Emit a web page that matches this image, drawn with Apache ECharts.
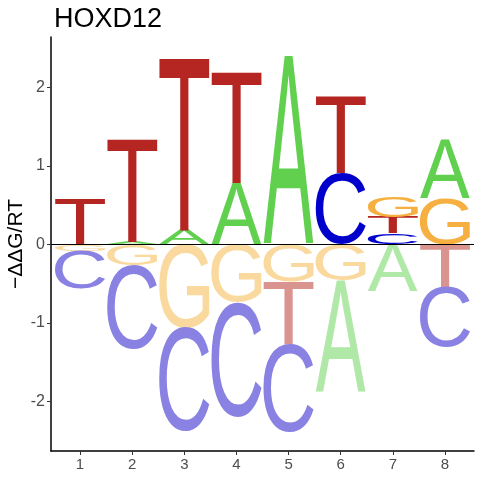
<!DOCTYPE html>
<html>
<head>
<meta charset="utf-8">
<script src="https://cdn.jsdelivr.net/npm/echarts@6/dist/echarts.min.js"></script>
<style>
  html, body { margin: 0; padding: 0; background: #fff; }
  #logo { width: 480px; height: 480px; }
</style>
</head>
<body>
<div id="logo"></div>
<script>
var positions = [1, 2, 3, 4, 5, 6, 7, 8];
var letters = ['A', 'C', 'G', 'T'];

// heights above zero, per position
var upA = [0, 0.03, 0.19, 0.78, 2.41, 0, 0, 0.75];
var upC = [0, 0, 0, 0, 0, 0.91, 0.14, 0];
var upG = [0, 0, 0, 0, 0, 0, 0.26, 0.59];
var upT = [0.58, 1.32, 2.21, 1.41, 0, 0.99, 0.21, 0];

// heights below zero (magnitude), per position
var downA = [0, 0, 0, 0, 0, 1.43, 0.60, 0];
var downC = [0.48, 1.07, 1.32, 1.46, 1.12, 0, 0, 0.77];
var downG = [0.08, 0.27, 1.07, 0.73, 0.47, 0.46, 0, 0];
var downT = [0, 0, 0, 0, 0.81, 0, 0, 0.54];

var yTicks = [-2, -1, 0, 1, 2];

var colUp = { A: '#61D04F', C: '#0000CD', G: '#F5B041', T: '#B52521' };
var colDown = { A: '#B0E8A7', C: '#8A82E3', G: '#FAD99F', T: '#DA9490' };

var FONT = '200px "Liberation Sans"';

// ink box of every glyph, measured the same way zrender draws (center / middle)
var metrics = {};
(function () {
	var ctx = document.createElement('canvas').getContext('2d');
	ctx.font = FONT;
	ctx.textAlign = 'center';
	ctx.textBaseline = 'middle';
	letters.forEach(function (ch) {
		var m = ctx.measureText(ch);
		metrics[ch] = {
			l: m.actualBoundingBoxLeft, r: m.actualBoundingBoxRight,
			a: m.actualBoundingBoxAscent, d: m.actualBoundingBoxDescent
		};
	});
})();

// stack letters: smallest next to zero
var up = { A: upA, C: upC, G: upG, T: upT };
var down = { A: downA, C: downC, G: downG, T: downT };
var stacks = [];
positions.forEach(function (p, i) {
	var pos = letters.map(function (l) { return [l, up[l][i]]; })
		.filter(function (v) { return v[1] > 0; })
		.sort(function (a, b) { return a[1] - b[1]; });
	var acc = 0;
	pos.forEach(function (v) {
		stacks.push([p, acc, acc + v[1], letters.indexOf(v[0]), 0]);
		acc += v[1];
	});
	var neg = letters.map(function (l) { return [l, down[l][i]]; })
		.filter(function (v) { return v[1] > 0; })
		.sort(function (a, b) { return a[1] - b[1]; });
	acc = 0;
	neg.forEach(function (v) {
		stacks.push([p, -acc - v[1], -acc, letters.indexOf(v[0]), 1]);
		acc += v[1];
	});
});

var halfW = 0.48;

function renderLetter(params, api) {
	var x = api.value(0), y0 = api.value(1), y1 = api.value(2);
	var ch = letters[api.value(3)];
	var neg = api.value(4) === 1;
	var pA = api.coord([x - halfW, y1]);
	var pB = api.coord([x + halfW, y0]);
	var left = pA[0], right = pB[0];
	var top = Math.min(pA[1], pB[1]), bottom = Math.max(pA[1], pB[1]);
	var m = metrics[ch];
	var sx = (right - left) / (m.l + m.r);
	var sy = (bottom - top) / (m.a + m.d);
	return {
		type: 'text',
		x: left + sx * m.l,
		y: top + sy * m.a,
		scaleX: sx,
		scaleY: sy,
		silent: true,
		style: {
			text: ch,
			x: 0,
			y: 0,
			font: FONT,
			fill: neg ? colDown[ch] : colUp[ch],
			align: 'center',
			verticalAlign: 'middle',
			textAlign: 'center',
			textVerticalAlign: 'middle'
		}
	};
}

var chart = echarts.init(document.getElementById('logo'), null, { renderer: 'canvas' });

var option = {
	animation: false,
	backgroundColor: '#fff',
	title: {
		text: 'HOXD12',
		left: 49,
		top: 1,
		textStyle: {
			color: '#000',
			fontFamily: 'Liberation Sans',
			fontWeight: 'normal',
			fontSize: 27
		}
	},
	grid: {
		left: 51, right: 6, top: 37, bottom: 29,
		containLabel: false,
		outerBoundsMode: 'none'
	},
	xAxis: {
		type: 'value',
		min: 0.443,
		max: 8.557,
		splitLine: { show: false },
		axisLine: { show: true, onZero: false, lineStyle: { color: '#000', width: 1.5 } },
		axisTick: { show: true, length: 4, customValues: positions, lineStyle: { color: '#333', width: 1 } },
		axisLabel: {
			customValues: positions,
			margin: 6,
			color: '#4D4D4D',
			fontFamily: 'Liberation Sans',
			fontSize: 15
		}
	},
	yAxis: {
		type: 'value',
		min: -2.633,
		max: 2.644,
		name: '\u2212\u0394\u0394G/RT',
		nameLocation: 'middle',
		nameGap: 24,
		nameMoveOverlap: false,
		nameTextStyle: {
			color: '#000',
			fontFamily: 'Liberation Sans',
			fontSize: 21
		},
		splitLine: { show: false },
		axisLine: { show: true, onZero: false, lineStyle: { color: '#000', width: 1.5 } },
		axisTick: { show: true, length: 4, customValues: yTicks, lineStyle: { color: '#333', width: 1 } },
		axisLabel: {
			customValues: yTicks,
			margin: 6,
			color: '#4D4D4D',
			fontFamily: 'Liberation Sans',
			fontSize: 16
		}
	},
	series: [{
		type: 'custom',
		renderItem: renderLetter,
		encode: { x: 0, y: [1, 2] },
		data: stacks,
		clip: false,
		markLine: {
			silent: true,
			symbol: 'none',
			label: { show: false },
			lineStyle: { color: '#000', width: 1, type: 'solid' },
			data: [{ yAxis: 0 }]
		}
	}]
};
chart.setOption(option);
</script>
</body>
</html>
